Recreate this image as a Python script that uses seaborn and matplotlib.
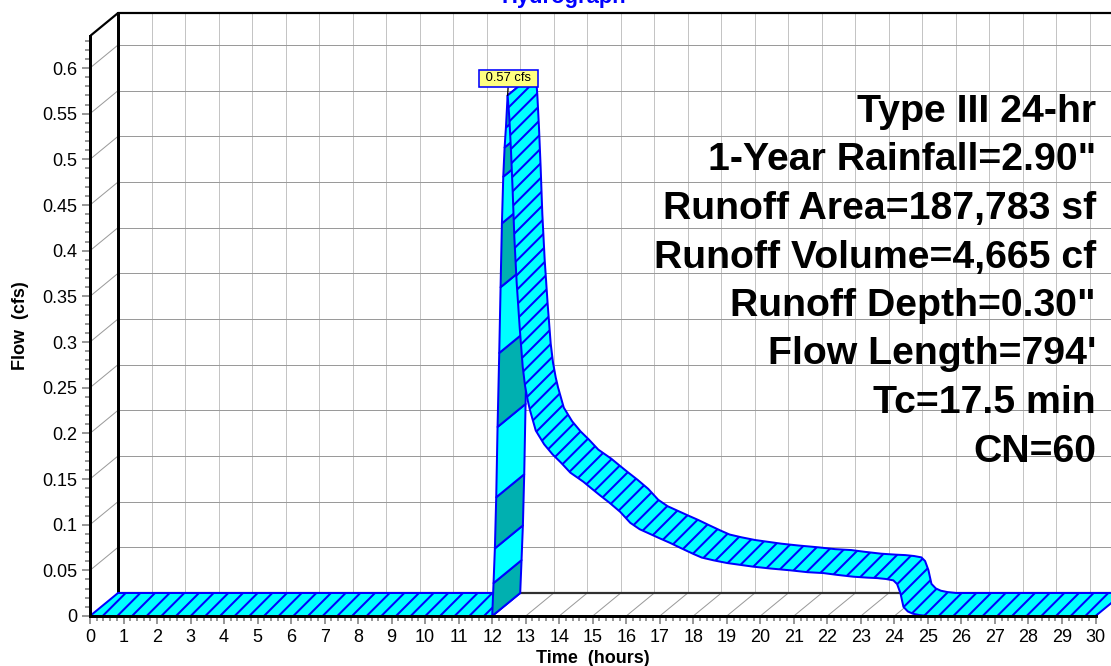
import numpy as np
import matplotlib
matplotlib.use("Agg")
import matplotlib.pyplot as plt
import seaborn as sns
from matplotlib.patches import Polygon
from matplotlib.collections import LineCollection
from matplotlib.ticker import FixedLocator, FuncFormatter

# ---------------- data ----------------
time_hr = [0.0,
           12.00, 12.04, 12.08, 12.12, 12.16, 12.21, 12.25, 12.29, 12.33, 12.37, 12.41, 12.46,
           12.51, 12.56, 12.61, 12.66, 12.73, 12.82, 12.91, 12.98, 13.06, 13.13,
           13.30, 13.55, 13.80, 14.05, 14.33, 14.72, 14.95, 15.22, 15.50, 15.82,
           16.12, 16.40, 16.70, 17.00, 17.31, 17.65, 18.00, 18.25, 18.60, 19.01,
           19.40, 19.79, 20.30, 20.90, 21.40, 21.88, 22.30, 22.78, 23.20, 23.49,
           23.75, 23.97, 24.08, 24.18, 24.27, 24.40, 24.55, 24.75, 25.00, 30.00]
flow_cfs = [0.0,
            0.0, 0.036, 0.074, 0.130, 0.207, 0.288, 0.360, 0.430, 0.481, 0.513, 0.535, 0.570,
            0.546, 0.510, 0.466, 0.415, 0.365, 0.316, 0.273, 0.252, 0.236, 0.225,
            0.203, 0.188, 0.177, 0.168, 0.157, 0.147, 0.140, 0.132, 0.124, 0.114,
            0.102, 0.095, 0.090, 0.085, 0.080, 0.074, 0.068, 0.064, 0.061, 0.058,
            0.056, 0.054, 0.052, 0.050, 0.048, 0.047, 0.045, 0.043, 0.042, 0.0415,
            0.0405, 0.039, 0.035, 0.025, 0.010, 0.005, 0.0025, 0.001, 0.0, 0.0]
peak_label = "0.57 cfs"
title_text = "Hydrograph"
x_label = "Time  (hours)"
y_label = "Flow  (cfs)"
x_ticks = list(range(0, 31))
y_ticks = [0, 0.05, 0.1, 0.15, 0.2, 0.25, 0.3, 0.35, 0.4, 0.45, 0.5, 0.55, 0.6]
info_lines = ["Type III 24-hr",
              "1-Year Rainfall=2.90\"",
              "Runoff Area=187,783 sf",
              "Runoff Volume=4,665 cf",
              "Runoff Depth=0.30\"",
              "Flow Length=794'",
              "Tc=17.5 min",
              "CN=60"]

# ---------------- geometry / style ----------------
DPI = 132
W, H = 1111, 666
PT = 72.0 / DPI          # points per pixel
X0_PX, X30_PX = 90.0, 1095.5
Y0_PX, TOP_PX = 616.0, 10.0
PX_HR = (X30_PX - X0_PX) / 30.0
PX_CFS = 913.3
DEPTH_PX = (28.0, 23.0)
DX = DEPTH_PX[0] / PX_HR
DY = DEPTH_PX[1] / PX_CFS
YTOP = 0.635
XEND = 30.0

CYAN = "#00FFFF"
TEAL = "#00B0B0"
BLUE = "#0000FF"
GRID = "#9a9a9a"

sns.set_theme(style="white")
plt.rcParams["font.family"] = ["Liberation Sans", "DejaVu Sans"]
plt.rcParams["hatch.color"] = BLUE
plt.rcParams["hatch.linewidth"] = 1.1

fig = plt.figure(figsize=(W / DPI, H / DPI), dpi=DPI)
ax = fig.add_axes([X0_PX / W, (H - Y0_PX) / H, (W - X0_PX) / W, (Y0_PX - TOP_PX) / H])
ax.set_facecolor("white")
ax.set_xlim(0, (W - X0_PX) / PX_HR)
ax.set_ylim(0, (Y0_PX - TOP_PX) / PX_CFS)

# ---------------- 3D box: back wall, left wall, floor ----------------
ax.vlines([t + DX for t in x_ticks[1:]], DY, YTOP + DY, colors="#8a8a8a",
          linestyles=(0, (1, 1)), lw=1.0 * PT, zorder=1)
ax.hlines([q + DY for q in y_ticks[1:]], DX, XEND + DX, colors=GRID, lw=1.0 * PT, zorder=1)
ax.add_collection(LineCollection([[(0, q), (DX, q + DY)] for q in y_ticks[1:]],
                                 colors=GRID, lw=1.0 * PT, zorder=1))
ax.add_collection(LineCollection([[(t, 0), (t + DX, DY)] for t in x_ticks[1:]],
                                 colors=GRID, lw=1.0 * PT, zorder=1))
ax.plot([DX, XEND + DX], [DY, DY], color="#303030", lw=2.2 * PT, zorder=1.2)
ax.plot([DX, XEND + DX], [YTOP + DY, YTOP + DY], color="black", lw=2.2 * PT, zorder=1.2)
ax.plot([DX, DX], [DY, YTOP + DY], color="black", lw=3.0 * PT, zorder=1.2)
ax.plot([0, DX], [YTOP, YTOP + DY], color="black", lw=2.2 * PT, zorder=1.2)

# ---------------- hydrograph ribbon (painter's order) ----------------
t = np.asarray(time_hr, dtype=float)
q = np.asarray(flow_cfs, dtype=float)
n = len(t)
vx = np.diff(t) * PX_HR
vy = np.diff(q) * PX_CFS
top_face = (vx * DEPTH_PX[1] - vy * DEPTH_PX[0]) >= 0

# group consecutive segments that show the same face
runs = []
start = 0
for i in range(1, n - 1):
    if top_face[i] != top_face[start]:
        runs.append((start, i, top_face[start]))
        start = i
runs.append((start, n - 1, top_face[start]))

z = 3.0
LW = 2.0 * PT
toggle = 0
for a, b, is_top in runs:
    if is_top:
        front = list(zip(t[a:b + 1], q[a:b + 1]))
        back = list(zip(t[a:b + 1] + DX, q[a:b + 1] + DY))
        poly = Polygon(front + back[::-1], closed=True, facecolor=CYAN,
                       edgecolor=BLUE, lw=LW, hatch="///", joinstyle="round", zorder=z)
        ax.add_patch(poly)
        z += 0.01
    else:
        for i in range(a, b):
            quad = [(t[i], q[i]), (t[i + 1], q[i + 1]),
                    (t[i + 1] + DX, q[i + 1] + DY), (t[i] + DX, q[i] + DY)]
            fc = TEAL if toggle % 2 == 0 else CYAN
            toggle += 1
            ax.add_patch(Polygon(quad, closed=True, facecolor=fc, edgecolor=BLUE,
                                 lw=LW, joinstyle="round", zorder=z))
            z += 0.01

# peak callout
ip = int(np.argmax(q))
ax.annotate(" " + peak_label + " ", xy=(t[ip], q[ip]), xytext=(1, 17),
            textcoords="offset pixels",
            ha="center", va="center", fontsize=13 * PT, color="black",
            bbox=dict(boxstyle="square,pad=0.22", fc="#FFFF80", ec=BLUE, lw=1.6 * PT),
            arrowprops=dict(arrowstyle="-", color="black", lw=1.3 * PT, shrinkA=0, shrinkB=0),
            zorder=40)

# ---------------- axes, ticks, labels ----------------
for s in ("top", "right"):
    ax.spines[s].set_visible(False)
ax.spines["left"].set_bounds(0, YTOP)
ax.spines["bottom"].set_bounds(0, XEND)
for s in ("left", "bottom"):
    ax.spines[s].set_color("black")
    ax.spines[s].set_linewidth(3.0 * PT)
    ax.spines[s].set_zorder(30)
    ax.spines[s].set_visible(True)

ax.xaxis.set_major_locator(FixedLocator(x_ticks))
ax.xaxis.set_minor_locator(FixedLocator(np.arange(0, XEND + 0.001, 0.2)))
ax.yaxis.set_major_locator(FixedLocator(y_ticks))
ax.yaxis.set_minor_locator(FixedLocator(np.arange(0, 0.6301, 0.01)))
ax.xaxis.set_major_formatter(FuncFormatter(lambda v, _: f"{v:g}"))
ax.yaxis.set_major_formatter(FuncFormatter(lambda v, _: f"{v:g}"))
ax.tick_params(axis="both", which="both", direction="out", color="#808080",
               width=1.6 * PT, labelcolor="black", bottom=True, left=True,
               top=False, right=False, labelsize=18 * PT)
ax.tick_params(axis="both", which="major", length=8.5 * PT)
ax.tick_params(axis="both", which="minor", length=5.0 * PT)
ax.tick_params(axis="x", which="major", pad=5.0 * PT)
ax.tick_params(axis="y", which="major", pad=4.5 * PT)
ax.grid(False)

xmax = ax.get_xlim()[1]
ax.set_xlabel(x_label, fontsize=18 * PT, fontweight="bold", color="black")
ax.xaxis.set_label_coords(15.0 / xmax, -(650 - Y0_PX) / (Y0_PX - TOP_PX))
ax.set_ylabel(y_label, fontsize=18 * PT, fontweight="bold", color="black")
ax.yaxis.set_label_coords((29 - X0_PX) / (W - X0_PX), (Y0_PX - 326) / (Y0_PX - TOP_PX))

fig.text(563.5 / W, 1 - 3.0 / H, title_text, ha="center", va="baseline",
         color=BLUE, fontweight="bold", fontsize=22 * PT)

for k, line in enumerate(info_lines):
    base_px = 122.0 + 48.5 * k
    fig.text(1096.0 / W, 1 - base_px / H, line, ha="right", va="baseline",
             fontsize=39.2 * PT, fontweight="bold", color="black")

fig.savefig("out.png", dpi=DPI)
